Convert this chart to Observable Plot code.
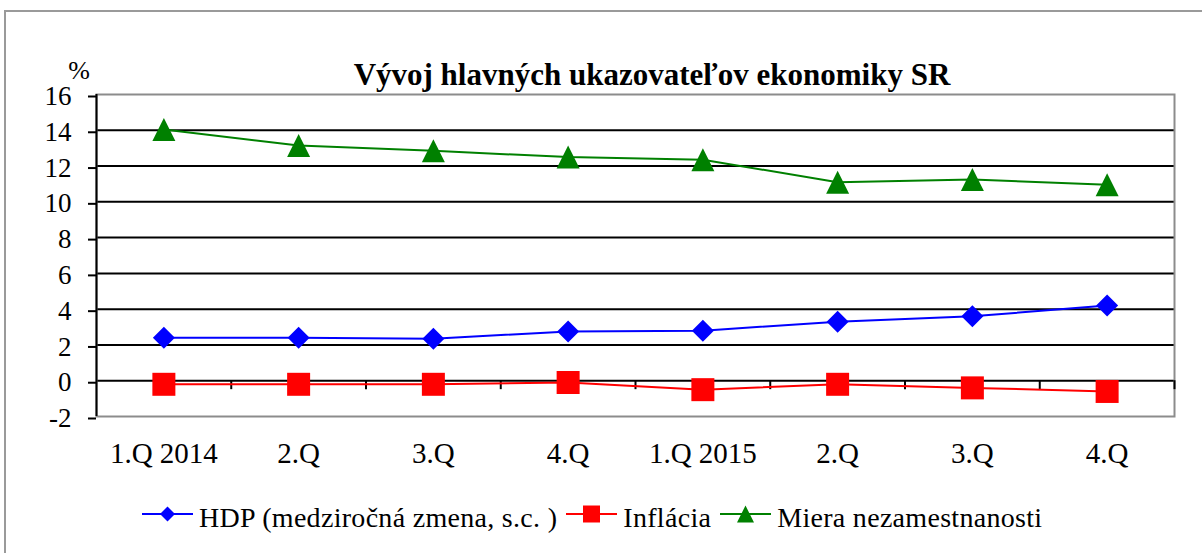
<!DOCTYPE html>
<html>
<head>
<meta charset="utf-8">
<script src="https://cdn.jsdelivr.net/npm/d3@7"></script>
<script src="https://cdn.jsdelivr.net/npm/@observablehq/plot@0.6"></script>
<style>
  body { margin: 0; background: #fff; }
  #wrap { position: relative; width: 1202px; height: 553px; overflow: hidden; font-family: "Liberation Serif", "Times New Roman", serif; color: #000; font-variant-ligatures: none; }
  #border { position: absolute; left: 4px; top: 10px; width: 1400px; height: 800px; border: 2px solid #9a9a9a; box-sizing: border-box; }
  #chart { position: absolute; left: 0; top: 0; }
  #title { position: absolute; left: 352px; width: 600px; top: 59px; text-align: center; font-size: 31px; font-weight: bold; line-height: 31px; white-space: nowrap; }
  #unit { position: absolute; left: 59px; width: 40px; top: 58px; text-align: center; font-size: 26px; line-height: 26px; }
  #legend { position: absolute; left: 142px; top: 504px; display: flex; align-items: flex-start; font-size: 28px; line-height: 28px; white-space: nowrap; letter-spacing: 0.3px; }
  #legend .item { display: flex; align-items: flex-start; margin-right: 9px; }
  #legend svg { display: block; margin-right: 6px; }
</style>
</head>
<body>
<div id="wrap">
  <div id="border"></div>
  <div id="chart"></div>
  <div id="title"></div>
  <div id="unit"></div>
  <div id="legend"></div>
</div>
<script>
// ---- data ----
const categories = ["1.Q 2014", "2.Q", "3.Q", "4.Q", "1.Q 2015", "2.Q", "3.Q", "4.Q"];
const hdp = [2.4, 2.4, 2.35, 2.75, 2.8, 3.3, 3.6, 4.2];
const inflacia = [-0.2, -0.2, -0.2, -0.1, -0.5, -0.2, -0.4, -0.6];
const nezamestnanost = [14.05, 13.15, 12.85, 12.5, 12.35, 11.1, 11.25, 10.95];
const yTicks = [-2, 0, 2, 4, 6, 8, 10, 12, 14, 16];
const seriesNames = ["HDP (medziročná zmena, s.c. )", "Inflácia", "Miera nezamestnanosti"];
const seriesColors = ["#0000ff", "#ff0000", "#008000"];
const titleText = "Vývoj hlavných ukazovateľov ekonomiky SR";
const unitText = "%";

// ---- symbols (centered in their bounding box, like spreadsheet markers) ----
const diamond = { draw(ctx, size) { const h = Math.sqrt(size) / 2; ctx.moveTo(0, -h); ctx.lineTo(h, 0); ctx.lineTo(0, h); ctx.lineTo(-h, 0); ctx.closePath(); } };
const square = { draw(ctx, size) { const h = Math.sqrt(size) / 2; ctx.moveTo(-h, -h); ctx.lineTo(h, -h); ctx.lineTo(h, h); ctx.lineTo(-h, h); ctx.closePath(); } };
const triangle = { draw(ctx, size) { const h = Math.sqrt(size) / 2; ctx.moveTo(0, -h); ctx.lineTo(h, h); ctx.lineTo(-h, h); ctx.closePath(); } };
const rFor = side => side / Math.sqrt(Math.PI);

const seriesValues = [hdp, inflacia, nezamestnanost];
const seriesSymbols = [diamond, square, triangle];
const markerSides = [22, 23, 23];

const idx = categories.map((_, i) => i);
const xDomain = [idx[0] - 0.5, idx[idx.length - 1] + 0.5];
const rows = vals => vals.map((v, i) => ({ i, v }));

const seriesMarks = seriesValues.flatMap((vals, s) => [
  Plot.line(rows(vals), { x: "i", y: "v", stroke: seriesColors[s], strokeWidth: 2 }),
  Plot.dot(rows(vals), { x: "i", y: "v", symbol: seriesSymbols[s], r: rFor(markerSides[s]), fill: seriesColors[s], stroke: "none" })
]);

const plot = Plot.plot({
  width: 1202,
  height: 553,
  marginTop: 94,
  marginBottom: 137,
  marginLeft: 96,
  marginRight: 28,
  style: { fontFamily: "'Liberation Serif', 'Times New Roman', serif", fontSize: "27px", background: "none", color: "#000", overflow: "visible", fontVariantLigatures: "none" },
  x: { type: "linear", domain: xDomain, axis: null },
  y: { domain: [yTicks[0], yTicks[yTicks.length - 1]], axis: null },
  marks: [
    Plot.ruleY(yTicks.slice(1, -1), { stroke: "#000", strokeWidth: 2 }),
    Plot.frame({ stroke: "#8c8c8c", strokeWidth: 2 }),
    Plot.ruleX([xDomain[0]], { stroke: "#000", strokeWidth: 2 }),
    Plot.ruleX(idx.map(i => i + 0.5), { y1: 0, y2: -0.5, stroke: "#000", strokeWidth: 2 }),
    Plot.axisY(yTicks, { tickSize: 8, tickPadding: 17, strokeWidth: 2, fontSize: 27, dy: 2, label: null, tickFormat: d => String(d) }),
    Plot.text(categories, { x: (d, i) => i, text: d => d, frameAnchor: "bottom", lineAnchor: "bottom", dy: 46, fontSize: 29 }),
    ...seriesMarks
  ]
});
document.getElementById("chart").appendChild(plot);

document.getElementById("title").textContent = titleText;
document.getElementById("unit").textContent = unitText;

// ---- legend ----
const legend = document.getElementById("legend");
const legendSides = [15, 17, 17];
seriesNames.forEach((name, s) => {
  const item = document.createElement("div");
  item.className = "item";
  const svg = d3.create("svg").attr("width", 51).attr("height", 28);
  svg.append("line").attr("x1", 0).attr("x2", 51).attr("y1", 10).attr("y2", 10)
    .attr("stroke", seriesColors[s]).attr("stroke-width", 2);
  const sym = d3.symbol(seriesSymbols[s], legendSides[s] * legendSides[s]);
  svg.append("path").attr("d", sym()).attr("transform", "translate(25.5,10)").attr("fill", seriesColors[s]);
  item.appendChild(svg.node());
  const span = document.createElement("span");
  span.textContent = name;
  item.appendChild(span);
  legend.appendChild(item);
});
</script>
</body>
</html>
